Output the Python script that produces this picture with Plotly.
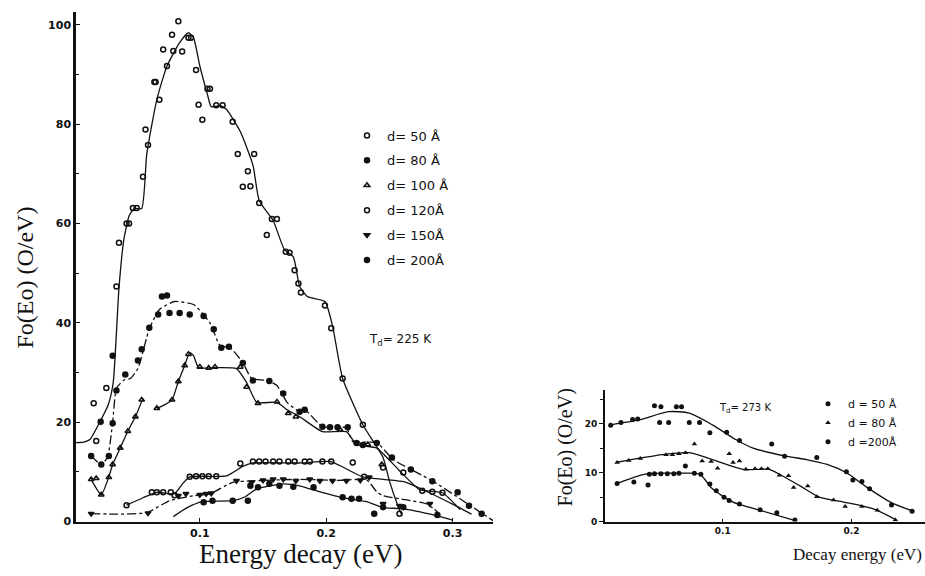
import plotly.graph_objects as go

# ---------------- Left panel (T_d = 225 K) ----------------
labels_left = ["d= 50 Å", "d= 80 Å", "d= 100 Å", "d= 120Å", "d= 150Å", "d= 200Å"]

a_curve_x = [0.002, 0.008, 0.013, 0.021, 0.0275, 0.0315, 0.036, 0.040, 0.044, 0.048, 0.054, 0.058, 0.066, 0.074, 0.084, 0.091, 0.095, 0.100, 0.106, 0.109, 0.116, 0.121, 0.132, 0.142, 0.147, 0.158, 0.167, 0.174, 0.179, 0.185, 0.199, 0.205, 0.213, 0.229, 0.245, 0.250, 0.257, 0.260]
a_curve_y = [15.9, 16.0, 16.5, 20.1, 23.5, 28.1, 47.0, 57.0, 61.5, 63.0, 63.0, 74.0, 85.0, 91.7, 96.4, 98.4, 97.4, 91.7, 86.0, 83.5, 83.7, 83.0, 78.5, 71.8, 64.6, 60.6, 54.7, 53.3, 47.3, 45.3, 44.3, 39.4, 28.8, 19.5, 12.9, 8.2, 3.0, 1.2]
a_pts_x = [0.083, 0.078, 0.071, 0.079, 0.086, 0.074, 0.091, 0.093, 0.097, 0.064, 0.065, 0.068, 0.099, 0.102, 0.106, 0.108, 0.113, 0.118, 0.126, 0.057, 0.059, 0.055, 0.047, 0.050, 0.042, 0.044, 0.036, 0.034, 0.130, 0.143, 0.138, 0.134, 0.140, 0.147, 0.157, 0.161, 0.153, 0.168, 0.171, 0.175, 0.178, 0.180, 0.199, 0.204, 0.213, 0.229, 0.245, 0.016, 0.018, 0.026, 0.258]
a_pts_y = [100.7, 98.0, 95.0, 94.7, 94.6, 91.7, 97.4, 97.4, 90.9, 88.5, 88.5, 84.9, 83.9, 80.9, 87.1, 87.1, 83.8, 83.8, 80.5, 78.9, 75.8, 69.4, 63.1, 63.1, 60.0, 60.0, 56.1, 47.3, 74.0, 74.0, 70.5, 67.4, 67.5, 64.1, 60.9, 60.9, 57.7, 54.3, 54.1, 50.6, 47.9, 46.1, 43.5, 38.9, 28.8, 19.5, 10.9, 23.8, 16.2, 26.9, 1.6]

b_curve_x = [0.014, 0.022, 0.027, 0.031, 0.034, 0.040, 0.045, 0.051, 0.060, 0.068, 0.080, 0.095, 0.108, 0.116, 0.124, 0.134, 0.141, 0.153, 0.161, 0.169, 0.179, 0.184, 0.197, 0.216, 0.221, 0.240, 0.253, 0.284, 0.332]
b_curve_y = [13.2, 11.5, 13.0, 20.0, 26.8, 28.5, 28.8, 30.8, 38.8, 42.7, 44.3, 43.7, 40.0, 35.4, 35.0, 32.0, 28.8, 28.4, 27.4, 24.0, 22.1, 22.3, 19.1, 18.9, 16.1, 15.9, 12.5, 8.2, 0.2]
b_pts_x = [0.014, 0.022, 0.028, 0.0215, 0.031, 0.034, 0.041, 0.031, 0.051, 0.054, 0.060, 0.067, 0.070, 0.074, 0.076, 0.084, 0.092, 0.103, 0.111, 0.117, 0.123, 0.134, 0.142, 0.155, 0.166, 0.179, 0.183, 0.197, 0.203, 0.209, 0.217, 0.224, 0.229, 0.240, 0.252, 0.267, 0.284, 0.304, 0.313, 0.323]
b_pts_y = [13.2, 11.5, 13.2, 20.1, 19.8, 26.4, 29.6, 33.4, 32.4, 34.7, 39.0, 41.7, 45.3, 45.5, 42.0, 42.0, 41.7, 41.4, 38.7, 35.0, 35.2, 31.9, 28.4, 28.3, 25.8, 22.1, 22.5, 19.1, 19.0, 19.0, 19.0, 15.8, 15.4, 15.8, 12.9, 10.5, 8.1, 5.9, 3.2, 1.6]

c_curve_x = [0.014, 0.022, 0.028, 0.031, 0.037, 0.043, 0.049, 0.055, None, 0.066, 0.072, 0.078, 0.083, 0.088, 0.092, 0.095, 0.099, 0.113, 0.129, 0.137, 0.145, 0.161, 0.169, 0.179, 0.197, 0.216, 0.224, 0.240, 0.257, 0.274, 0.292, 0.306]
c_curve_y = [8.5, 5.4, 9.0, 11.5, 14.8, 18.2, 21.1, 24.8, None, 22.8, 23.5, 24.5, 28.2, 31.4, 34.0, 33.4, 31.0, 31.0, 30.8, 28.0, 24.0, 24.0, 22.5, 21.1, 18.1, 18.1, 15.5, 14.8, 10.5, 6.4, 5.8, 2.4]
c_pts_x = [0.014, 0.018, 0.022, 0.028, 0.031, 0.037, 0.043, 0.049, 0.054, 0.066, 0.078, 0.083, 0.088, 0.091, 0.100, 0.107, 0.112, 0.132, 0.137, 0.146, 0.161, 0.170, 0.176, 0.211, 0.233, 0.244]
c_pts_y = [8.5, 8.7, 5.4, 8.9, 11.5, 14.8, 18.2, 21.1, 24.5, 22.8, 24.5, 28.2, 31.4, 33.7, 31.1, 30.9, 31.1, 31.1, 27.1, 23.8, 24.1, 21.8, 21.1, 18.5, 15.5, 11.5]

d_curve_x = [0.042, 0.055, 0.066, 0.080, 0.086, 0.092, 0.121, 0.134, 0.142, 0.180, 0.203, 0.229, 0.245, 0.262, 0.280, 0.300, 0.315]
d_curve_y = [3.3, 4.8, 5.9, 5.6, 7.5, 9.0, 9.2, 11.1, 11.8, 11.8, 12.1, 9.0, 8.5, 8.0, 6.0, 3.5, 1.5]
d_pts_x = [0.042, 0.062, 0.066, 0.071, 0.077, 0.080, 0.092, 0.097, 0.102, 0.107, 0.113, 0.132, 0.142, 0.147, 0.152, 0.158, 0.163, 0.170, 0.175, 0.183, 0.187, 0.197, 0.204, 0.221, 0.230, 0.261, 0.276, 0.284, 0.292]
d_pts_y = [3.3, 5.9, 5.9, 5.9, 5.9, 5.3, 9.0, 9.1, 9.1, 9.1, 9.1, 11.7, 12.1, 12.1, 12.1, 12.1, 12.1, 12.1, 12.1, 12.1, 12.1, 12.1, 12.1, 11.9, 9.0, 9.9, 6.2, 6.0, 5.8]

e_curve_x = [0.014, 0.035, 0.058, 0.076, 0.095, 0.108, 0.126, 0.142, 0.179, 0.210, 0.232, 0.240, 0.245, 0.263, 0.280, 0.290]
e_curve_y = [1.6, 1.5, 1.8, 4.2, 5.2, 5.6, 7.9, 8.2, 8.5, 8.3, 8.4, 6.0, 5.2, 4.4, 3.5, 1.5]
e_pts_x = [0.014, 0.059, 0.083, 0.089, 0.100, 0.105, 0.109, 0.129, 0.141, 0.150, 0.158, 0.166, 0.176, 0.187, 0.195, 0.205, 0.216, 0.227, 0.234, 0.245, 0.258, 0.282]
e_pts_y = [1.6, 1.7, 5.2, 5.6, 5.4, 5.6, 5.7, 8.2, 7.9, 8.3, 8.5, 8.5, 8.2, 8.5, 8.2, 8.2, 8.2, 8.3, 8.9, 3.6, 3.2, 3.6]

f_curve_x = [0.079, 0.090, 0.102, 0.126, 0.136, 0.145, 0.166, 0.179, 0.187, 0.213, 0.232, 0.245, 0.260, 0.287, 0.300]
f_curve_y = [1.0, 2.8, 4.0, 4.2, 5.0, 6.6, 7.6, 7.2, 6.6, 4.8, 4.0, 2.8, 2.6, 1.2, 0.3]
f_pts_x = [0.103, 0.110, 0.126, 0.138, 0.140, 0.146, 0.155, 0.163, 0.174, 0.190, 0.213, 0.220, 0.226, 0.238, 0.245, 0.261, 0.288]
f_pts_y = [3.9, 4.2, 4.2, 4.2, 7.2, 6.9, 7.6, 7.2, 7.0, 6.9, 4.9, 4.6, 4.6, 1.6, 2.9, 2.9, 1.3]

# ---------------- Right panel (T_d = 273 K) ----------------
labels_right = ["d = 50 Å", "d = 80 Å", "d =200Å"]

r50_curve_x = [0.013, 0.035, 0.058, 0.074, 0.092, 0.110, 0.123, 0.149, 0.165, 0.181, 0.196, 0.212, 0.230, 0.246]
r50_curve_y = [19.8, 20.8, 22.5, 22.2, 19.8, 16.8, 15.1, 13.4, 12.7, 11.7, 10.0, 7.0, 4.0, 2.3]
r50_pts_x = [0.013, 0.021, 0.030, 0.034, 0.047, 0.052, 0.064, 0.068, 0.051, 0.058, 0.074, 0.082, 0.090, 0.103, 0.113, 0.138, 0.148, 0.173, 0.196, 0.201, 0.208, 0.214, 0.231, 0.247]
r50_pts_y = [19.7, 20.3, 20.9, 21.0, 23.7, 23.5, 23.5, 23.5, 20.3, 20.3, 20.3, 20.3, 18.2, 18.3, 16.6, 15.9, 13.4, 13.1, 10.2, 8.5, 8.2, 6.7, 3.4, 2.1]

r80_curve_x = [0.017, 0.053, 0.074, 0.092, 0.116, 0.136, 0.144, 0.160, 0.175, 0.194, 0.217, 0.235]
r80_curve_y = [12.1, 13.7, 14.1, 12.7, 10.7, 10.7, 9.7, 7.3, 5.0, 4.0, 2.6, 0.3]
r80_pts_x = [0.018, 0.027, 0.036, 0.056, 0.061, 0.066, 0.071, 0.084, 0.091, 0.096, 0.108, 0.113, 0.118, 0.125, 0.130, 0.135, 0.144, 0.151, 0.155, 0.166, 0.173, 0.186, 0.195, 0.208, 0.220, 0.234, 0.078, 0.105]
r80_pts_y = [12.1, 12.5, 12.9, 13.7, 13.7, 13.9, 14.1, 12.4, 12.3, 10.9, 12.1, 12.4, 10.7, 10.8, 10.8, 10.8, 9.5, 9.4, 7.0, 7.3, 5.1, 4.4, 3.1, 3.1, 2.3, 0.3, 15.9, 13.9]

r200_curve_x = [0.017, 0.040, 0.066, 0.082, 0.092, 0.108, 0.129, 0.155]
r200_curve_y = [7.7, 9.7, 9.9, 9.7, 6.7, 4.0, 2.3, 0.3]
r200_pts_x = [0.018, 0.031, 0.042, 0.043, 0.047, 0.052, 0.057, 0.062, 0.066, 0.071, 0.078, 0.083, 0.090, 0.095, 0.101, 0.105, 0.113, 0.129, 0.142, 0.156]
r200_pts_y = [7.8, 8.1, 7.5, 9.7, 9.8, 9.8, 9.8, 9.8, 9.9, 11.4, 9.9, 9.7, 7.7, 6.3, 5.0, 4.3, 3.6, 2.4, 1.8, 0.3]

xtick_vals_left = [0.1, 0.2, 0.3]
xtick_text_left = ["0.1", "0.2", "0.3"]
ytick_vals_left = [0, 20, 40, 60, 80, 100]
xtick_vals_right = [0.1, 0.2]
xtick_text_right = ["0.1", "0.2"]
ytick_vals_right = [0, 10, 20]

INK = "#111111"
fig = go.Figure()

left_sets = [
    (a_curve_x, a_curve_y, a_pts_x, a_pts_y, "circle-open", "solid"),
    (b_curve_x, b_curve_y, b_pts_x, b_pts_y, "circle", "dashdot"),
    (c_curve_x, c_curve_y, c_pts_x, c_pts_y, "triangle-up-open", "solid"),
    (d_curve_x, d_curve_y, d_pts_x, d_pts_y, "circle-open", "solid"),
    (e_curve_x, e_curve_y, e_pts_x, e_pts_y, "triangle-down", "dashdot"),
    (f_curve_x, f_curve_y, f_pts_x, f_pts_y, "circle", "solid"),
]
for cx, cy, px, py, sym, dash in left_sets:
    fig.add_trace(go.Scatter(x=cx, y=cy, mode="lines", line=dict(color=INK, width=1.3, dash=dash, shape="spline", smoothing=0.5),
                             showlegend=False, hoverinfo="skip", connectgaps=False, xaxis="x", yaxis="y"))
for (cx, cy, px, py, sym, dash), name in zip(left_sets, labels_left):
    fig.add_trace(go.Scatter(x=px, y=py, mode="markers", name=name, legend="legend", legendgroup=name,
                             marker=dict(symbol=sym, size=5, color=INK, line=dict(color=INK, width=1.5)),
                             xaxis="x", yaxis="y"))

right_sets = [
    (r50_curve_x, r50_curve_y, r50_pts_x, r50_pts_y, "circle"),
    (r80_curve_x, r80_curve_y, r80_pts_x, r80_pts_y, "triangle-up"),
    (r200_curve_x, r200_curve_y, r200_pts_x, r200_pts_y, "circle"),
]
for cx, cy, px, py, sym in right_sets:
    fig.add_trace(go.Scatter(x=cx, y=cy, mode="lines", line=dict(color=INK, width=1.3, shape="spline", smoothing=0.7),
                             showlegend=False, hoverinfo="skip", xaxis="x2", yaxis="y2"))
for (cx, cy, px, py, sym), name in zip(right_sets, labels_right):
    fig.add_trace(go.Scatter(x=px, y=py, mode="markers", name=name, legend="legend2", legendgroup="r" + name,
                             marker=dict(symbol=sym, size=5, color=INK),
                             xaxis="x2", yaxis="y2"))

tickfont = dict(family="DejaVu Sans", size=11, color=INK, weight="bold")
small_tickfont = dict(family="DejaVu Sans", size=9, color=INK, weight="bold")

fig.update_layout(
    width=925, height=576,
    margin=dict(l=0, r=0, t=0, b=0),
    paper_bgcolor="white", plot_bgcolor="white",
    xaxis=dict(domain=[76/925, 493/925], range=[0.002, 0.332], anchor="y",
               showgrid=False, zeroline=False, showline=True, linecolor=INK, linewidth=2,
               tickvals=xtick_vals_left, ticktext=xtick_text_left, ticks="inside", ticklen=4, tickcolor=INK,
               tickfont=tickfont),
    yaxis=dict(domain=[1 - 528/576, 1 - 12/576], range=[0, 102.6], anchor="x",
               showgrid=False, zeroline=False, showline=True, linecolor=INK, linewidth=2.5,
               tickvals=ytick_vals_left, ticks="inside", ticklen=4, tickcolor=INK,
               minor=dict(dtick=10, ticks="inside", ticklen=3, tickcolor=INK),
               tickfont=tickfont),
    xaxis2=dict(domain=[605/925, 1.0], range=[0.0086, 0.257], anchor="y2",
                showgrid=False, zeroline=False, showline=True, linecolor=INK, linewidth=2,
                tickvals=xtick_vals_right, ticktext=xtick_text_right, ticks="inside", ticklen=3, tickcolor=INK,
                tickfont=small_tickfont),
    yaxis2=dict(domain=[1 - 528/576, 1 - 395/576], range=[0, 26.9], anchor="x2",
                showgrid=False, zeroline=False, showline=True, linecolor=INK, linewidth=2,
                tickvals=ytick_vals_right, ticks="outside", ticklen=4, tickcolor=INK,
                minor=dict(dtick=5, ticks="outside", ticklen=3, tickcolor=INK),
                tickfont=small_tickfont),
    legend=dict(x=347/925, y=1 - 122/576, xanchor="left", yanchor="top",
                font=dict(family="DejaVu Sans", size=13, color=INK),
                bgcolor="rgba(0,0,0,0)", tracegroupgap=5, itemwidth=30, traceorder="grouped"),
    legend2=dict(x=808/925, y=1 - 394/576, xanchor="left", yanchor="top",
                 font=dict(family="DejaVu Sans", size=11, color=INK),
                 bgcolor="rgba(0,0,0,0)", tracegroupgap=0, itemwidth=30, traceorder="grouped"),
    annotations=[
        dict(text="Fo(Eo) (O/eV)", x=25/925, y=1 - 281/576, xref="paper", yref="paper", textangle=-90,
             xanchor="center", yanchor="middle",
             showarrow=False, font=dict(family="Liberation Serif", size=24, color=INK)),
        dict(text="Energy decay (eV)", x=300/925, y=1 - 561/576, xref="paper", yref="paper",
             xanchor="center", yanchor="middle",
             showarrow=False, font=dict(family="Liberation Serif", size=27, color=INK)),
        dict(text="T<sub>d</sub>= 225 K", x=367/925, y=1 - 344/576, xref="paper", yref="paper",
             xanchor="left", yanchor="middle",
             showarrow=False, font=dict(family="DejaVu Sans", size=12, color=INK)),
        dict(text="Fo(Eo) (O/eV)", x=565/925, y=1 - 453/576, xref="paper", yref="paper", textangle=-90,
             xanchor="center", yanchor="middle",
             showarrow=False, font=dict(family="Liberation Serif", size=20, color=INK)),
        dict(text="Decay energy (eV)", x=857/925, y=1 - 561/576, xref="paper", yref="paper",
             xanchor="center", yanchor="middle",
             showarrow=False, font=dict(family="Liberation Serif", size=17, color=INK)),
        dict(text="T<sub>d</sub>= 273 K", x=717/925, y=1 - 414/576, xref="paper", yref="paper",
             xanchor="left", yanchor="middle",
             showarrow=False, font=dict(family="DejaVu Sans", size=10, color=INK)),
    ],
)

fig.write_html("out.html")
